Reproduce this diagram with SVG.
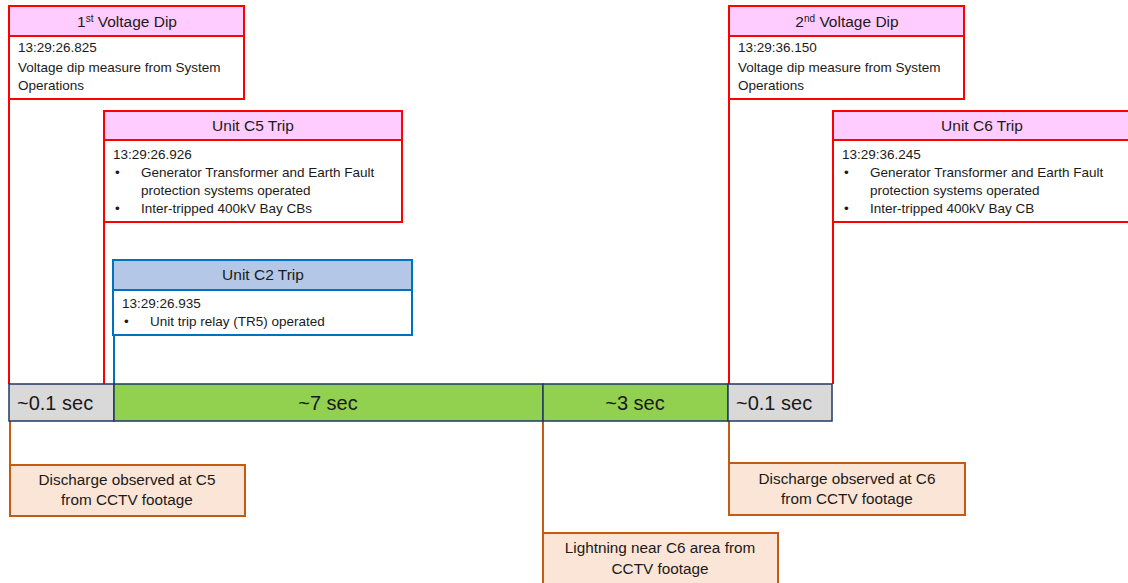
<svg xmlns="http://www.w3.org/2000/svg" width="1128" height="583" viewBox="0 0 1128 583">
<style>
text{font-family:"Liberation Sans",Arial,sans-serif;fill:#1a1a1a}
.hd{font-size:15.5px;text-anchor:middle}
.bd{font-size:13.5px}
.bar{font-size:20px}
.mid{text-anchor:middle}
.or{font-size:15.3px;text-anchor:middle}
.rbox{fill:#fff;stroke:#ff0000;stroke-width:2}
.rhead{fill:#ffccff;stroke:#ff0000;stroke-width:2}
.bbox{fill:#fff;stroke:#0070c0;stroke-width:2}
.bhead{fill:#b4c7e7;stroke:#0070c0;stroke-width:2}
.obox{fill:#fbe5d6;stroke:#c55a11;stroke-width:2}
.seg{stroke:#1f3864;stroke-width:1.5}
.rl{stroke:#ff0000;stroke-width:2;fill:none}
.bl{stroke:#0070c0;stroke-width:2;fill:none}
.ol{stroke:#c55a11;stroke-width:2;fill:none}
</style>
<g id="connectors">
<line class="rl" x1="9" y1="99" x2="9" y2="384"/>
<line class="rl" x1="104" y1="222" x2="104" y2="384"/>
<line class="bl" x1="114" y1="335" x2="114" y2="384"/>
<line class="rl" x1="729" y1="99" x2="729" y2="384"/>
<line class="rl" x1="833" y1="222" x2="833" y2="384"/>
<line class="ol" x1="10" y1="421" x2="10" y2="465"/>
<line class="ol" x1="543" y1="421" x2="543" y2="533"/>
<line class="ol" x1="729" y1="421" x2="729" y2="463"/>
</g>
<g id="dip1">
<rect class="rhead" x="9" y="6" width="235" height="30"/>
<rect class="rbox" x="9" y="36" width="235" height="63"/>
<text class="hd" x="127" y="27">1<tspan font-size="10px" dy="-5">st</tspan><tspan dy="5"> Voltage Dip</tspan></text>
<text class="bd" x="18" y="52">13:29:26.825</text>
<text class="bd" x="18" y="72">Voltage dip measure from System</text>
<text class="bd" x="18" y="90">Operations</text>
</g>
<g id="c5trip">
<rect class="rhead" x="104" y="111" width="298" height="29"/>
<rect class="rbox" x="104" y="140" width="298" height="82"/>
<text class="hd" x="253" y="131">Unit C5 Trip</text>
<text class="bd" x="113" y="159">13:29:26.926</text>
<text class="bd" x="115" y="177">•</text>
<text class="bd" x="141" y="177">Generator Transformer and Earth Fault</text>
<text class="bd" x="141" y="195">protection systems operated</text>
<text class="bd" x="115" y="213">•</text>
<text class="bd" x="141" y="213">Inter-tripped 400kV Bay CBs</text>
</g>
<g id="c2trip">
<rect class="bhead" x="113" y="260" width="299" height="30"/>
<rect class="bbox" x="113" y="290" width="299" height="45"/>
<text class="hd" x="263" y="280">Unit C2 Trip</text>
<text class="bd" x="122" y="308">13:29:26.935</text>
<text class="bd" x="124" y="326">•</text>
<text class="bd" x="150" y="326">Unit trip relay (TR5) operated</text>
</g>
<g id="dip2">
<rect class="rhead" x="729" y="6" width="235" height="30"/>
<rect class="rbox" x="729" y="36" width="235" height="63"/>
<text class="hd" x="847" y="27">2<tspan font-size="10px" dy="-5">nd</tspan><tspan dy="5"> Voltage Dip</tspan></text>
<text class="bd" x="738" y="52">13:29:36.150</text>
<text class="bd" x="738" y="72">Voltage dip measure from System</text>
<text class="bd" x="738" y="90">Operations</text>
</g>
<g id="c6trip">
<rect class="rhead" x="833" y="111" width="300" height="29"/>
<rect class="rbox" x="833" y="140" width="300" height="82"/>
<text class="hd" x="982" y="131">Unit C6 Trip</text>
<text class="bd" x="842" y="159">13:29:36.245</text>
<text class="bd" x="844" y="177">•</text>
<text class="bd" x="870" y="177">Generator Transformer and Earth Fault</text>
<text class="bd" x="870" y="195">protection systems operated</text>
<text class="bd" x="844" y="213">•</text>
<text class="bd" x="870" y="213">Inter-tripped 400kV Bay CB</text>
</g>
<g id="timeline">
<rect class="seg" x="9" y="384" width="105" height="37" fill="#d9d9d9"/>
<rect class="seg" x="114" y="384" width="429" height="37" fill="#92d050"/>
<rect class="seg" x="543" y="384" width="185" height="37" fill="#92d050"/>
<rect class="seg" x="728" y="384" width="104" height="37" fill="#d9d9d9"/>
<text class="bar" x="17" y="410">~0.1 sec</text>
<text class="bar mid" x="328" y="410">~7 sec</text>
<text class="bar mid" x="635" y="410">~3 sec</text>
<text class="bar" x="736" y="410">~0.1 sec</text>
</g>
<g id="discharge-c5">
<rect class="obox" x="10" y="465" width="235" height="51"/>
<text class="or" x="127" y="485">Discharge observed at C5</text>
<text class="or" x="127" y="505">from CCTV footage</text>
</g>
<g id="lightning">
<rect class="obox" x="543" y="533" width="235" height="55"/>
<text class="or" x="660" y="553">Lightning near C6 area from</text>
<text class="or" x="660" y="574">CCTV footage</text>
</g>
<g id="discharge-c6">
<rect class="obox" x="729" y="463" width="236" height="52"/>
<text class="or" x="847" y="484">Discharge observed at C6</text>
<text class="or" x="847" y="504">from CCTV footage</text>
</g>
</svg>
